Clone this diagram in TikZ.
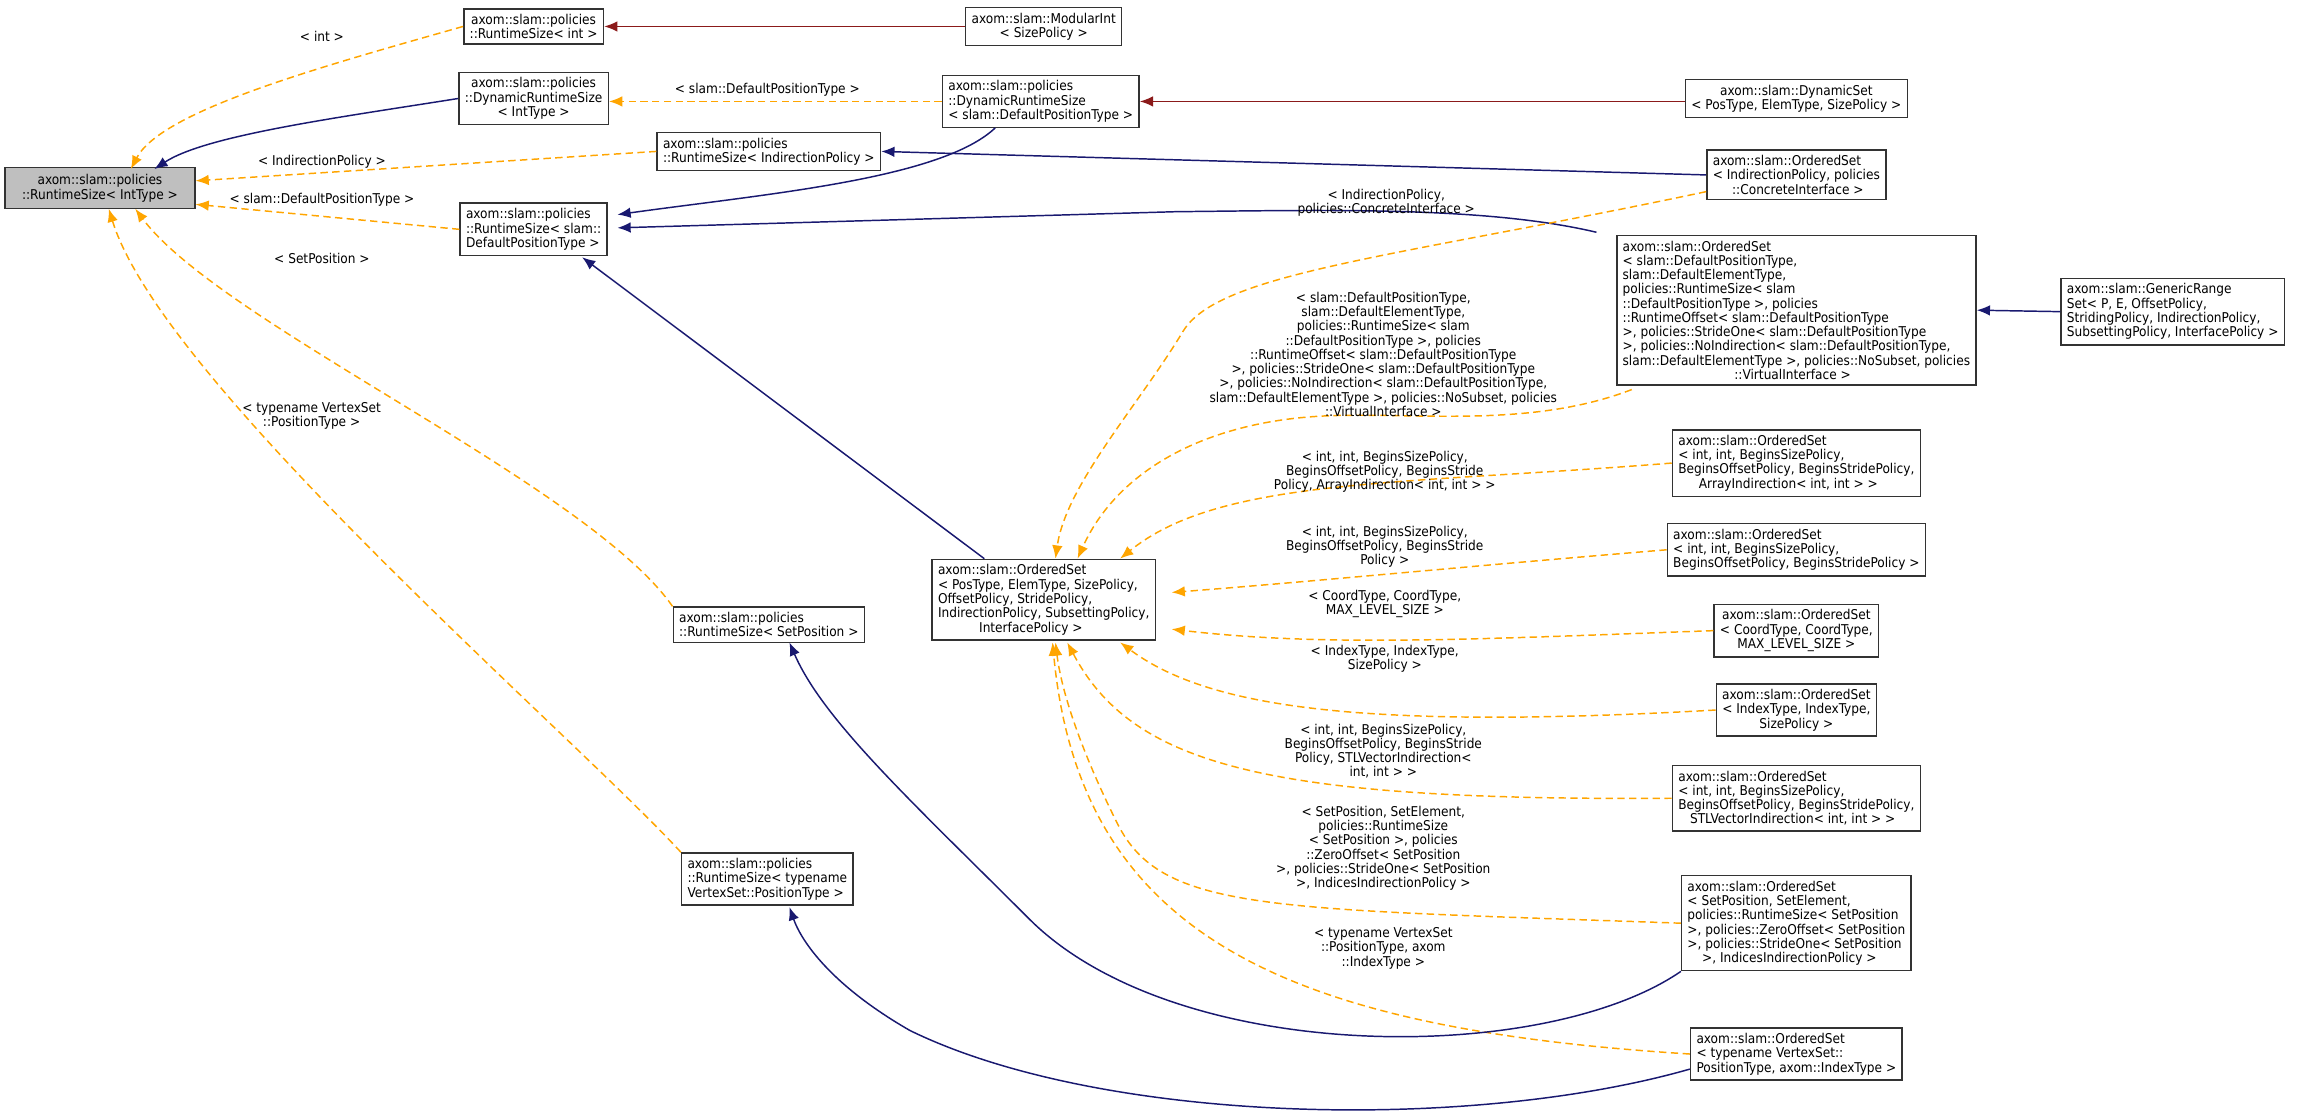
\documentclass[tikz,border=0pt]{standalone}
\usepackage{fontspec}
\setmainfont{DejaVu Sans Condensed}
\usetikzlibrary{arrows.meta}
\definecolor{nv}{HTML}{191970}
\definecolor{og}{HTML}{FFA500}
\definecolor{dr}{HTML}{8B1A1A}
\begin{document}
\begin{tikzpicture}[x=0.5pt,y=-0.5pt,
  every node/.style={font=\fontsize{4.6pt}{4.85pt}\selectfont},
  box/.style={draw=black!80,line width=0.5pt,fill=white,inner xsep=2pt,inner ysep=1.8pt,align=left},
  cbox/.style={box,align=center},
  lab/.style={align=center,inner sep=0pt},
  tip/.style={-{Latex[length=4.5pt,width=3.6pt]}},
  inh/.style={tip,draw=nv,line width=0.5pt},
  tpl/.style={tip,draw=og,line width=0.5pt,dash pattern=on 2.5pt off 1.5pt},
  use/.style={tip,draw=dr,line width=0.5pt}]
\useasboundingbox (0,0) rectangle (1568,760.5);
\node[cbox,fill=black!25,minimum width=64.5pt,minimum height=14pt] (A) at (68,128) {axom::slam::policies\\::RuntimeSize< IntType >};
\node[cbox] (B) at (363,18) {axom::slam::policies\\::RuntimeSize< int >};
\node[cbox] (C) at (710,18) {axom::slam::ModularInt\\< SizePolicy >};
\node[cbox] (D) at (363,67) {axom::slam::policies\\::DynamicRuntimeSize\\< IntType >};
\node[box] (E) at (708,69) {axom::slam::policies\\::DynamicRuntimeSize\\< slam::DefaultPositionType >};
\node[cbox] (F) at (1222,67) {axom::slam::DynamicSet\\< PosType, ElemType, SizePolicy >};
\node[box] (G) at (523,103) {axom::slam::policies\\::RuntimeSize< IndirectionPolicy >};
\node[box] (H) at (1222,119) {axom::slam::OrderedSet\\< IndirectionPolicy, policies\\\ \ \ \ \ ::ConcreteInterface >};
\node[box] (I) at (363,156) {axom::slam::policies\\::RuntimeSize< slam::\\DefaultPositionType >};
\node[box] (J) at (1222,211) {axom::slam::OrderedSet\\< slam::DefaultPositionType,\\ slam::DefaultElementType,\\ policies::RuntimeSize< slam\\::DefaultPositionType >, policies\\::RuntimeOffset< slam::DefaultPositionType\\ >, policies::StrideOne< slam::DefaultPositionType\\ >, policies::NoIndirection< slam::DefaultPositionType,\\ slam::DefaultElementType >, policies::NoSubset, policies\\\hspace{38pt}::VirtualInterface >};
\node[box] (K) at (1478,212) {axom::slam::GenericRange\\Set< P, E, OffsetPolicy,\\ StridingPolicy, IndirectionPolicy,\\ SubsettingPolicy, InterfacePolicy >};
\node[box] (L) at (710,408) {axom::slam::OrderedSet\\< PosType, ElemType, SizePolicy,\\ OffsetPolicy, StridePolicy,\\ IndirectionPolicy, SubsettingPolicy,\\\hspace{14pt}InterfacePolicy >};
\node[box] (M) at (523,425) {axom::slam::policies\\::RuntimeSize< SetPosition >};
\node[box] (N1) at (1222,315) {axom::slam::OrderedSet\\< int, int, BeginsSizePolicy,\\ BeginsOffsetPolicy, BeginsStridePolicy,\\\hspace{7pt}ArrayIndirection< int, int > >};
\node[box] (N2) at (1222,374) {axom::slam::OrderedSet\\< int, int, BeginsSizePolicy,\\ BeginsOffsetPolicy, BeginsStridePolicy >};
\node[cbox] (N3) at (1222,429) {axom::slam::OrderedSet\\< CoordType, CoordType,\\MAX\_LEVEL\_SIZE >};
\node[cbox] (N4) at (1222,483) {axom::slam::OrderedSet\\< IndexType, IndexType,\\SizePolicy >};
\node[box] (N5) at (1222,543) {axom::slam::OrderedSet\\< int, int, BeginsSizePolicy,\\ BeginsOffsetPolicy, BeginsStridePolicy,\\\hspace{4pt}STLVectorIndirection< int, int > >};
\node[box] (N6) at (1222,628) {axom::slam::OrderedSet\\< SetPosition, SetElement,\\ policies::RuntimeSize< SetPosition\\ >, policies::ZeroOffset< SetPosition\\ >, policies::StrideOne< SetPosition\\\hspace{5pt}>, IndicesIndirectionPolicy >};
\node[box] (O) at (522,598) {axom::slam::policies\\::RuntimeSize< typename\\ VertexSet::PositionType >};
\node[box] (P) at (1222,717) {axom::slam::OrderedSet\\< typename VertexSet::\\PositionType, axom::IndexType >};
% edges to A
\draw[tpl] (B.west) .. controls (220,45) and (110,75) .. (89,115);
\draw[inh] (D.west) .. controls (230,80) and (140,92) .. (105,115);
\draw[tpl] (G.west) -- (A.east |- 0,123);
\draw[tpl] (I.west) -- (A.east |- 0,139);
\draw[tpl] (M.north west) .. controls (400,330) and (150,220) .. (92,142);
\draw[tpl] (O.north west) .. controls (390,500) and (110,260) .. (74,142);
\node[lab] at (219,25) {< int >};
\node[lab] at (219,110) {< IndirectionPolicy >};
\node[lab] at (219,136) {< slam::DefaultPositionType >};
\node[lab] at (219,176) {< SetPosition >};
\node[lab] at (212,283) {< typename VertexSet\\::PositionType >};
% other
\draw[use] (C.west) -- (B.east);
\draw[tpl] (E.west) -- (D.east |- E.west);
\node[lab] at (522,61) {< slam::DefaultPositionType >};
\draw[use] (F.west |- E.east) -- (E.east);
\draw[inh] (677,87) .. controls (640,122) and (520,132) .. (420,146);
\draw[inh] (H.west) -- (G.east);
\draw[inh] (1086,158) .. controls (1010,140) and (900,143) .. (800,144) -- (420,155);
\draw[inh] (L.north west) ++(36,0) -- (396,175);
\draw[inh] (K.west) -- (J.east);
% templates to L
\draw[tpl] (H.south west) ++(0,-6) .. controls (950,175) and (830,185) .. (805,225) .. controls (775,275) and (725,330) .. (718,380);
\node[lab] at (943,138) {< IndirectionPolicy,\\policies::ConcreteInterface >};
\draw[tpl] (1110,265) .. controls (1040,292) and (960,280) .. (900,283) .. controls (820,287) and (760,320) .. (733,380);
\node[lab] at (941,241) {< slam::DefaultPositionType,\\ slam::DefaultElementType,\\ policies::RuntimeSize< slam\\::DefaultPositionType >, policies\\::RuntimeOffset< slam::DefaultPositionType\\ >, policies::StrideOne< slam::DefaultPositionType\\ >, policies::NoIndirection< slam::DefaultPositionType,\\ slam::DefaultElementType >, policies::NoSubset, policies\\::VirtualInterface >};
\draw[tpl] (N1.west) .. controls (950,330) and (830,325) .. (762,380);
\node[lab] at (942,321) {< int, int, BeginsSizePolicy,\\BeginsOffsetPolicy, BeginsStride\\Policy, ArrayIndirection< int, int > >};
\draw[tpl] (N2.west) .. controls (1000,385) and (900,395) .. (797,403);
\node[lab] at (942,372) {< int, int, BeginsSizePolicy,\\BeginsOffsetPolicy, BeginsStride\\Policy >};
\draw[tpl] (N3.west) .. controls (1000,435) and (900,440) .. (797,428);
\node[lab] at (942,411) {< CoordType, CoordType,\\MAX\_LEVEL\_SIZE >};
\draw[tpl] (N4.west) .. controls (920,497) and (820,480) .. (762,437);
\node[lab] at (942,448) {< IndexType, IndexType,\\SizePolicy >};
\draw[tpl] (N5.west) .. controls (860,545) and (770,520) .. (726,437);
\node[lab] at (941,511) {< int, int, BeginsSizePolicy,\\BeginsOffsetPolicy, BeginsStride\\Policy, STLVectorIndirection<\\int, int > >};
\draw[tpl] (N6.west) .. controls (860,618) and (790,620) .. (760,560) .. controls (735,510) and (722,470) .. (718,437);
\node[lab] at (941,577) {< SetPosition, SetElement,\\policies::RuntimeSize\\< SetPosition >, policies\\::ZeroOffset< SetPosition\\ >, policies::StrideOne< SetPosition\\ >, IndicesIndirectionPolicy >};
\draw[tpl] (P.west) .. controls (880,700) and (735,640) .. (716,437);
\node[lab] at (941,645) {< typename VertexSet\\::PositionType, axom\\::IndexType >};
% navy to M, O
\draw[inh] (N6.south west) .. controls (1050,725) and (800,725) .. (700,625) .. controls (620,545) and (560,490) .. (537,437);
\draw[inh] (P.south west) ++(0,-8) .. controls (1000,770) and (750,765) .. (619,701) .. controls (565,670) and (545,640) .. (537,617);
\end{tikzpicture}
\end{document}
